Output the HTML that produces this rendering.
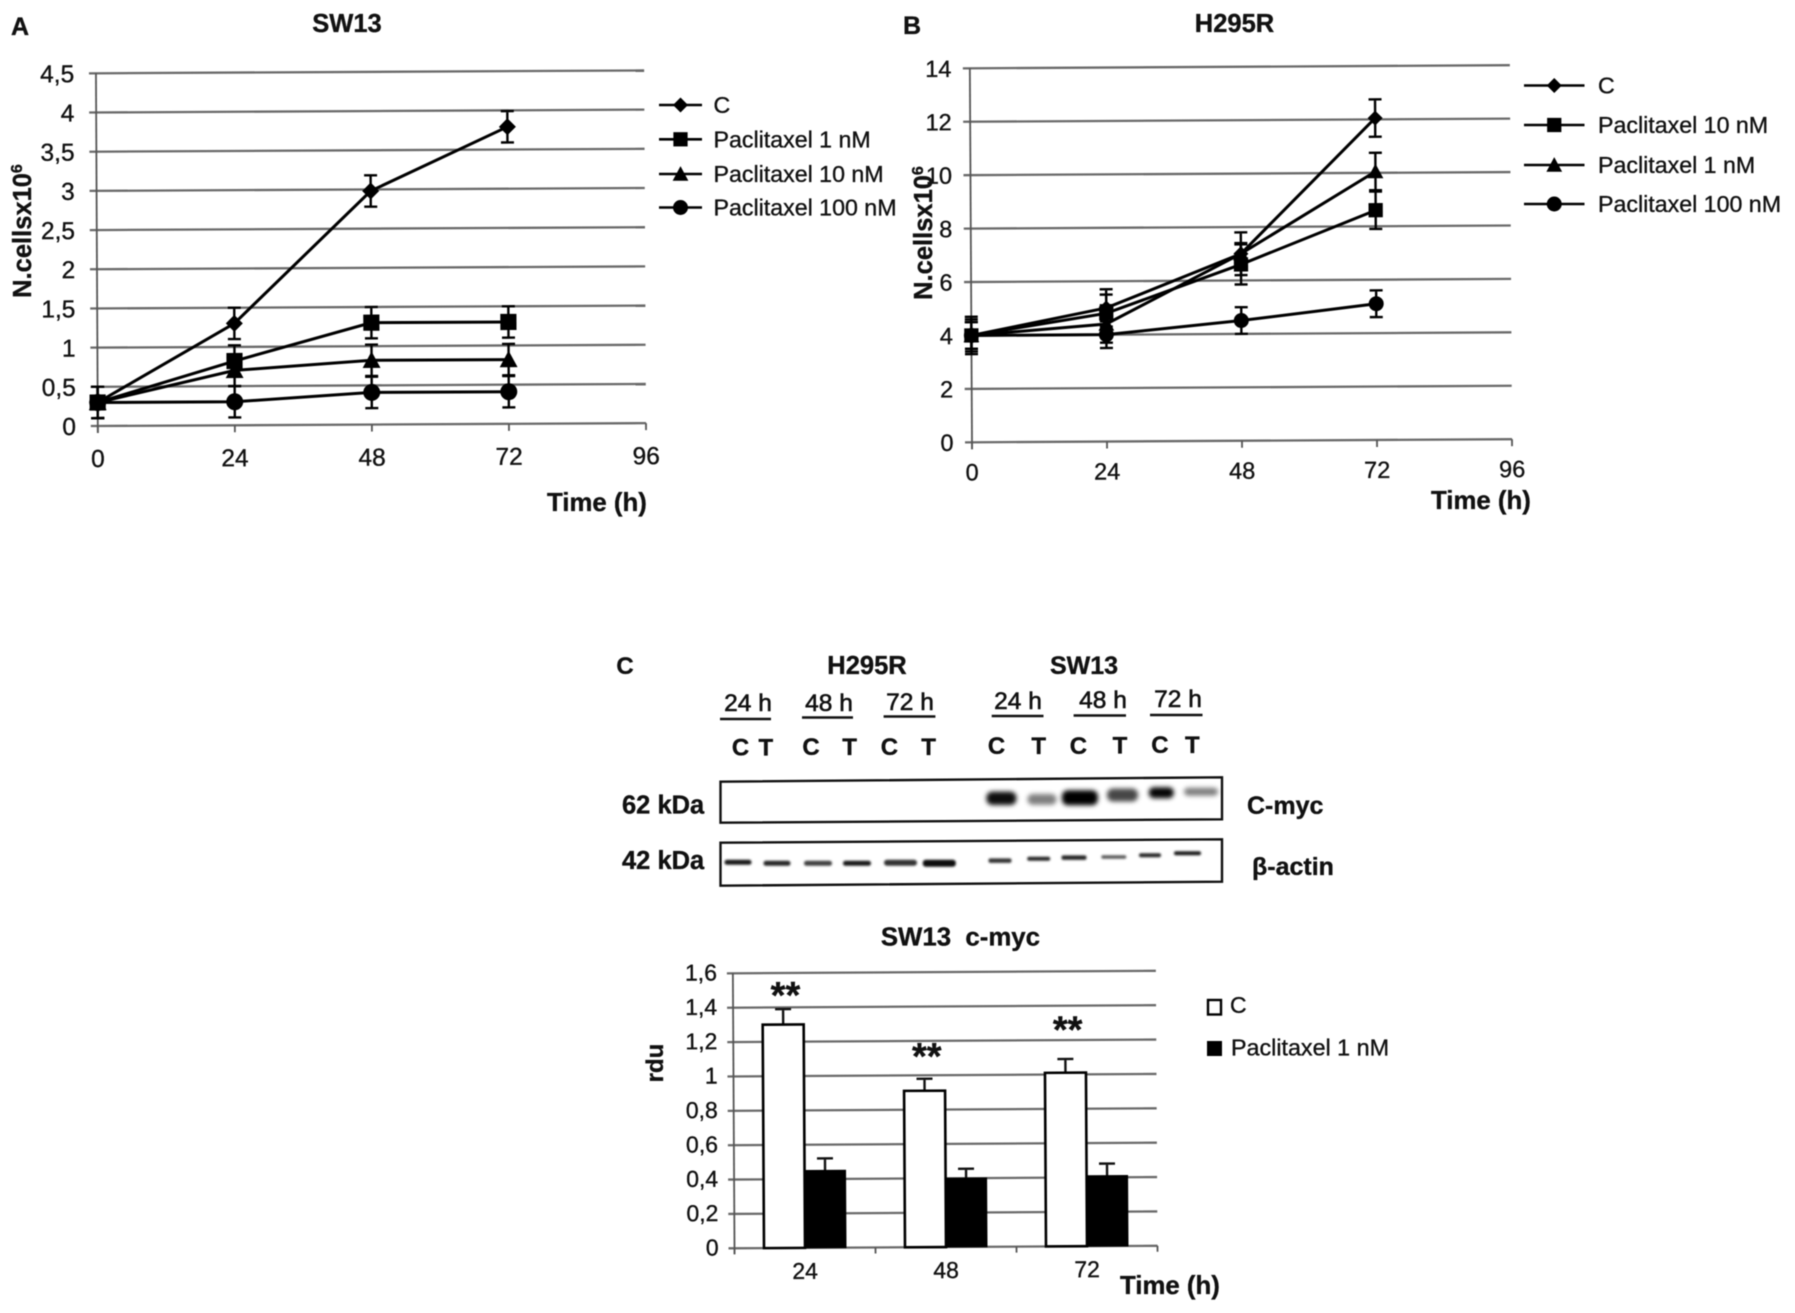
<!DOCTYPE html>
<html lang="en">
<head>
<meta charset="utf-8">
<title>Paclitaxel cell growth and c-myc expression</title>
<style>
html,body{margin:0;padding:0;background:#fff;}
svg{display:block;filter:blur(0.55px);}
text{font-family:"Liberation Sans",Arial,sans-serif;fill:#111;stroke:#111;stroke-width:.35px;}
.b{font-weight:700;}
</style>
</head>
<body>
<svg id="fig" xmlns="http://www.w3.org/2000/svg" width="1795" height="1313" viewBox="0 0 1795 1313">
<defs>
<filter id="blotBlur" x="-30%" y="-100%" width="160%" height="300%"><feGaussianBlur stdDeviation="2.3"/></filter>
<filter id="actinBlur" x="-20%" y="-100%" width="140%" height="300%"><feGaussianBlur stdDeviation="1.1"/></filter>
</defs>
<rect width="1795" height="1313" fill="#fff"/>

<!-- Static titles -->
<text class="b" x="11" y="35" font-size="25">A</text>
<text class="b" x="347" y="32" font-size="25.5" text-anchor="middle">SW13</text>
<text class="b" x="903" y="34" font-size="25">B</text>
<text class="b" x="1234.5" y="32" font-size="25.5" text-anchor="middle">H295R</text>
<text class="b" transform="translate(31,231) rotate(-90)" font-size="25.5" text-anchor="middle">N.cellsx10<tspan font-size="16" dy="-9">6</tspan></text>
<text class="b" transform="translate(932,233) rotate(-90)" font-size="25.5" text-anchor="middle">N.cellsx10<tspan font-size="16" dy="-9">6</tspan></text>
<text class="b" x="547" y="511" font-size="25.8">Time (h)</text>
<text class="b" x="1431" y="509" font-size="25.8">Time (h)</text>

<!-- Western blot -->
<g>
<text class="b" x="625" y="674" font-size="24" text-anchor="middle">C</text>
<text class="b" x="867" y="674" font-size="25.5" text-anchor="middle">H295R</text>
<text class="b" x="1084" y="674" font-size="25" text-anchor="middle">SW13</text>

<g font-size="24.5" text-anchor="middle" style="stroke-width:.6px">
<text x="748" y="711" style="stroke-width:.6px">24 h</text>
<text x="829" y="711" style="stroke-width:.6px">48 h</text>
<text x="910" y="710" style="stroke-width:.6px">72 h</text>
<text x="1018" y="709" style="stroke-width:.6px">24 h</text>
<text x="1103" y="708" style="stroke-width:.6px">48 h</text>
<text x="1178" y="707" style="stroke-width:.6px">72 h</text>
</g>
<g stroke="#111" stroke-width="2.4">
<line x1="720" x2="771" y1="719" y2="719"/>
<line x1="802" x2="853" y1="717.5" y2="717.5"/>
<line x1="883.6" x2="935.4" y1="716.5" y2="716.5"/>
<line x1="991.7" x2="1043.5" y1="716" y2="716"/>
<line x1="1073.6" x2="1126" y1="715.5" y2="715.5"/>
<line x1="1150" x2="1202.5" y1="715" y2="715"/>
</g>
<g font-size="24" text-anchor="middle">
<text class="b" x="740.6" y="755.5">C</text><text class="b" x="765.8" y="755.5">T</text>
<text class="b" x="811" y="755">C</text><text class="b" x="849.6" y="755">T</text>
<text class="b" x="889.4" y="755">C</text><text class="b" x="928.6" y="755">T</text>
<text class="b" x="996.5" y="754">C</text><text class="b" x="1038.7" y="754">T</text>
<text class="b" x="1078.4" y="754">C</text><text class="b" x="1120" y="753.5">T</text>
<text class="b" x="1159.9" y="753">C</text><text class="b" x="1192.3" y="753">T</text>
</g>

<polygon points="720.5,781.7 1222,777.3 1222,819.3 720.5,822.7" fill="#fff" stroke="#111" stroke-width="2.4"/>
<polygon points="720.5,842.7 1222,839.3 1222,881.7 720.5,885.7" fill="#fff" stroke="#111" stroke-width="2.4"/>

<g filter="url(#blotBlur)" fill="#000">
<rect x="986.4" y="791.6" width="30" height="13.4" rx="6" opacity=".95"/>
<rect x="1027.5" y="794" width="29" height="10.7" rx="5" opacity=".5"/>
<rect x="1061.9" y="790.2" width="36" height="15" rx="6"/>
<rect x="1107" y="788.5" width="31" height="13" rx="6" opacity=".72"/>
<rect x="1148.8" y="787.2" width="25" height="11" rx="5" opacity=".98"/>
<rect x="1184" y="787.7" width="34" height="8" rx="4" opacity=".5"/>
</g>
<g filter="url(#actinBlur)" fill="#000">
<rect x="724.5" y="859.8" width="27" height="5" rx="2.5" opacity=".9"/>
<rect x="763.5" y="860.8" width="27" height="5" rx="2.5" opacity=".85"/>
<rect x="804" y="860.8" width="28" height="5" rx="2.5" opacity=".75"/>
<rect x="843" y="860.8" width="28" height="5" rx="2.5" opacity=".9"/>
<rect x="884" y="859.7" width="33" height="6" rx="3" opacity=".8"/>
<rect x="922.8" y="859.8" width="33" height="7" rx="3" opacity=".95"/>
<rect x="988.5" y="858.4" width="23" height="4.5" rx="2" opacity=".8"/>
<rect x="1027.2" y="856.7" width="23" height="4" rx="2" opacity=".85"/>
<rect x="1061.5" y="855.4" width="25" height="4.5" rx="2" opacity=".85"/>
<rect x="1101.3" y="855.2" width="25" height="3.5" rx="1.7" opacity=".65"/>
<rect x="1139" y="853.3" width="22" height="4" rx="2" opacity=".85"/>
<rect x="1174" y="851.3" width="27" height="4" rx="2" opacity=".9"/>
</g>
<text class="b" x="622" y="813.5" font-size="25.5">62 kDa</text>
<text class="b" x="622" y="869" font-size="25.5">42 kDa</text>
<text class="b" x="1247" y="814" font-size="25">C-myc</text>
<text class="b" x="1252" y="875" font-size="25">β-actin</text>
</g>

<!-- Bar chart static text -->
<text class="b" x="960.4" y="945.5" font-size="25.8" text-anchor="middle" xml:space="preserve">SW13  c-myc</text>
<text class="b" transform="translate(663,1063) rotate(-90)" font-size="24" text-anchor="middle">rdu</text>
<text class="b" x="1120" y="1294" font-size="25.8">Time (h)</text>
</svg>

<script>
// Panel A (SW13)
const hours = [0, 24, 48, 72];
const hourTicks = [0, 24, 48, 72, 96];
const aTickValues = [0, 0.5, 1, 1.5, 2, 2.5, 3, 3.5, 4, 4.5];
const aTickLabels = ['0', '0,5', '1', '1,5', '2', '2,5', '3', '3,5', '4', '4,5'];
const aNames = ['C', 'Paclitaxel 1 nM', 'Paclitaxel 10 nM', 'Paclitaxel 100 nM'];
const aControl = [0.3, 1.3, 2.98, 3.79];
const aControlErr = [0.2, 0.2, 0.2, 0.2];
const a1nM = [0.3, 0.82, 1.3, 1.3];
const a1nMErr = [0.2, 0.2, 0.2, 0.2];
const a10nM = [0.3, 0.7, 0.82, 0.82];
const a10nMErr = [0.2, 0.2, 0.2, 0.2];
const a100nM = [0.3, 0.3, 0.41, 0.41];
const a100nMErr = [0.2, 0.2, 0.2, 0.2];

// Panel B (H295R)
const bTickValues = [0, 2, 4, 6, 8, 10, 12, 14];
const bTickLabels = ['0', '2', '4', '6', '8', '10', '12', '14'];
const bNames = ['C', 'Paclitaxel 10 nM', 'Paclitaxel 1 nM', 'Paclitaxel 100 nM'];
const bControl = [4, 5, 7, 12.05];
const bControlErr = [0.6, 0.7, 0.8, 0.7];
const b10nM = [4, 4.8, 6.6, 8.6];
const b10nMErr = [0.7, 0.7, 0.75, 0.7];
const b1nM = [4, 4.4, 7, 10.05];
const b1nMErr = [0.5, 0.7, 0.4, 0.7];
const b100nM = [4, 4, 4.5, 5.1];
const b100nMErr = [0.5, 0.5, 0.5, 0.5];

// Panel C bar chart (SW13 c-myc)
const barCategories = ['24', '48', '72'];
const barTickValues = [0, 0.2, 0.4, 0.6, 0.8, 1, 1.2, 1.4, 1.6];
const barTickLabels = ['0', '0,2', '0,4', '0,6', '0,8', '1', '1,2', '1,4', '1,6'];
const barControl = [1.3, 0.91, 1.01];
const barControlErr = [0.09, 0.07, 0.08];
const barPaclitaxel = [0.45, 0.4, 0.41];
const barPaclitaxelErr = [0.07, 0.055, 0.07];
const barSignificance = ['**', '**', '**'];
const barSignificanceLevel = [1.5, 1.14, 1.29];

const NS = 'http://www.w3.org/2000/svg';
const fig = document.getElementById('fig');

function mk(tag, attrs, parent) {
  const el = document.createElementNS(NS, tag);
  for (const k in attrs) el.setAttribute(k, attrs[k]);
  parent.appendChild(el);
  return el;
}

function marker(shape, cx, cy, s, parent) {
  let el;
  if (shape === 'diamond') {
    el = mk('polygon', { points: `${cx},${cy - s} ${cx + s},${cy} ${cx},${cy + s} ${cx - s},${cy}`, fill: '#000' }, parent);
  } else if (shape === 'square') {
    el = mk('rect', { x: cx - s * 0.95, y: cy - s * 0.95, width: s * 1.9, height: s * 1.9, fill: '#000' }, parent);
  } else if (shape === 'triangle') {
    el = mk('polygon', { points: `${cx},${cy - s * 1.05} ${cx + s * 1.05},${cy + s * 0.9} ${cx - s * 1.05},${cy + s * 0.9}`, fill: '#000' }, parent);
  } else {
    el = mk('circle', { cx: cx, cy: cy, r: s, fill: '#000' }, parent);
  }
  return el;
}

function drawLineChart(prefix, opts, tickValues, tickLabels, seriesNames, seriesValues, seriesErrors, shapes) {
  const X = h => opts.x0 + (h / 96) * (opts.x96 - opts.x0);
  const Y = v => opts.y0 - (v / opts.yMax) * (opts.y0 - opts.yTop);
  const g = mk('g', { transform: `rotate(${opts.tilt} ${opts.x0} ${opts.y0})` }, fig);
  
  

  tickValues.forEach((v, i) => {
    const line = mk('line', { x1: opts.x0 - 7, x2: X(96), y1: Y(v), y2: Y(v), stroke: '#6a6a6a', 'stroke-width': 2.3 }, g);
    
    
    const t = mk('text', { x: opts.labelRight, y: Y(v) + opts.labelFont * 0.36, 'font-size': opts.labelFont, 'text-anchor': 'end' }, g);
    t.textContent = tickLabels[i];
    
    
  });

  const axis = mk('line', { x1: opts.x0, x2: opts.x0, y1: Y(opts.yMax), y2: opts.y0 + 7, stroke: '#555', 'stroke-width': 1.8 }, g);
  
  

  hourTicks.forEach(h => {
    const tk = mk('line', { x1: X(h), x2: X(h), y1: opts.y0, y2: opts.y0 + 7, stroke: '#555', 'stroke-width': 1.8 }, g);
    
    
    const t = mk('text', { x: X(h), y: opts.y0 + opts.xLabelOffset, 'font-size': opts.labelFont, 'text-anchor': 'middle' }, g);
    t.textContent = String(h);
    
    
  });

  seriesValues.forEach((vals, s) => {
    const sg = mk('g', {}, g);
    
    
    const pts = vals.map((v, i) => X(hours[i]) + ',' + Y(v)).join(' ');
    const pl = mk('polyline', { points: pts, fill: 'none', stroke: '#000', 'stroke-width': 3 }, sg);
    
    
    vals.forEach((v, i) => {
      const x = X(hours[i]);
      const hi = Y(v + seriesErrors[s][i]);
      const lo = Y(v - seriesErrors[s][i]);
      const eb = mk('path', { d: `M${x - 6.5} ${hi}H${x + 6.5}M${x} ${hi}V${lo}M${x - 6.5} ${lo}H${x + 6.5}`, fill: 'none', stroke: '#000', 'stroke-width': 2.4 }, sg);
      
      
      const m = marker(shapes[s], x, Y(v), opts.markerSize, sg);
      
      
    });
  });

  seriesNames.forEach((name, s) => {
    const ly = opts.legendY[s];
    const lg = mk('g', {}, fig);
    
    
    mk('line', { x1: opts.legX1, x2: opts.legX2, y1: ly, y2: ly, stroke: '#000', 'stroke-width': 2.6 }, lg);
    marker(shapes[s], (opts.legX1 + opts.legX2) / 2, ly, 7.5, lg);
    const t = mk('text', { x: opts.legText, y: ly + 8, 'font-size': 23.2 }, lg);
    t.textContent = name;
  });
}

drawLineChart('panel-a',
  { x0: 97.8, x96: 646, y0: 426, yTop: 73.3, yMax: 4.5, tilt: -0.3, labelRight: 76, labelFont: 24.5, xLabelOffset: 41, markerSize: 8.5,
    legendY: [105, 139.3, 174, 207.5], legX1: 659, legX2: 702, legText: 713.5 },
  aTickValues, aTickLabels, aNames,
  [aControl, a1nM, a10nM, a100nM],
  [aControlErr, a1nMErr, a10nMErr, a100nMErr],
  ['diamond', 'square', 'triangle', 'circle']);

drawLineChart('panel-b',
  { x0: 972, x96: 1512, y0: 442.3, yTop: 68.3, yMax: 14, tilt: -0.33, labelRight: 953.5, labelFont: 23.5, xLabelOffset: 38, markerSize: 7.5,
    legendY: [85.5, 125, 165, 204], legX1: 1524, legX2: 1584.5, legText: 1598 },
  bTickValues, bTickLabels, bNames,
  [bControl, b10nM, b1nM, b100nM],
  [bControlErr, b10nMErr, b1nMErr, b100nMErr],
  ['diamond', 'square', 'triangle', 'circle']);

(function drawBars() {
  const x0 = 734.5, catW = 141, barW = 41, y0 = 1248.3, yTop = 973.3, yMax = 1.6;
  const Y = v => y0 - (v / yMax) * (y0 - yTop);
  const catX = i => x0 + i * catW;
  const g = mk('g', { transform: `rotate(-0.34 ${x0} ${y0})` }, fig);
  
  

  barTickValues.forEach((v, i) => {
    const line = mk('line', { x1: x0 - 6, x2: x0 + catW * barCategories.length, y1: Y(v), y2: Y(v), stroke: '#6a6a6a', 'stroke-width': 2.3 }, g);
    
    
    const t = mk('text', { x: 718.6, y: Y(v) + 7, 'font-size': 23, 'text-anchor': 'end' }, g);
    t.textContent = barTickLabels[i];
    
    
  });
  const axis = mk('line', { x1: x0, x2: x0, y1: yTop, y2: y0 + 6, stroke: '#555', 'stroke-width': 1.8 }, g);
  
  

  for (let i = 0; i <= barCategories.length; i++) {
    const tk = mk('line', { x1: catX(i), x2: catX(i), y1: y0, y2: y0 + 6, stroke: '#555', 'stroke-width': 1.8 }, g);
    
    
  }

  barCategories.forEach((cat, i) => {
    const cx = catX(i) + catW / 2;
    const cTop = Y(barControl[i]);
    const pTop = Y(barPaclitaxel[i]);
    const cx1 = cx - barW / 2, cx2 = cx + barW / 2;

    const e1 = mk('path', { d: `M${cx1 - 8} ${Y(barControl[i] + barControlErr[i])}H${cx1 + 8}M${cx1} ${Y(barControl[i] + barControlErr[i])}V${cTop}`, fill: 'none', stroke: '#111', 'stroke-width': 2.4 }, g);
    
    
    const e2 = mk('path', { d: `M${cx2 - 8} ${Y(barPaclitaxel[i] + barPaclitaxelErr[i])}H${cx2 + 8}M${cx2} ${Y(barPaclitaxel[i] + barPaclitaxelErr[i])}V${pTop}`, fill: 'none', stroke: '#111', 'stroke-width': 2.4 }, g);
    
    

    const b1 = mk('rect', { x: cx - barW, y: cTop, width: barW, height: y0 - cTop, fill: '#fff', stroke: '#000', 'stroke-width': 2.6 }, g);
    
    
    const b2 = mk('rect', { x: cx, y: pTop, width: barW, height: y0 - pTop, fill: '#000', stroke: '#000', 'stroke-width': 1 }, g);
    
    

    const lab = mk('text', { x: cx, y: y0 + 31, 'font-size': 23, 'text-anchor': 'middle' }, g);
    lab.textContent = cat;
    
    

    const star = mk('text', { x: cx - barW / 2 + 2.5, y: Y(barSignificanceLevel[i]) + 18, 'font-size': 38, 'font-weight': 700, 'text-anchor': 'middle' }, g);
    star.textContent = barSignificance[i];
    
    
  });

  const l1 = mk('g', {}, fig);
  
  
  mk('rect', { x: 1208, y: 1000, width: 13, height: 14.5, fill: '#fff', stroke: '#000', 'stroke-width': 2.4 }, l1);
  const lt1 = mk('text', { x: 1230, y: 1013, 'font-size': 23 }, l1);
  lt1.textContent = 'C';
  const l2 = mk('g', {}, fig);
  
  
  mk('rect', { x: 1207, y: 1041, width: 15, height: 15, fill: '#000' }, l2);
  const lt2 = mk('text', { x: 1231, y: 1055.5, 'font-size': 23.3 }, l2);
  lt2.textContent = 'Paclitaxel 1 nM';
})();
</script>
</body>
</html>
